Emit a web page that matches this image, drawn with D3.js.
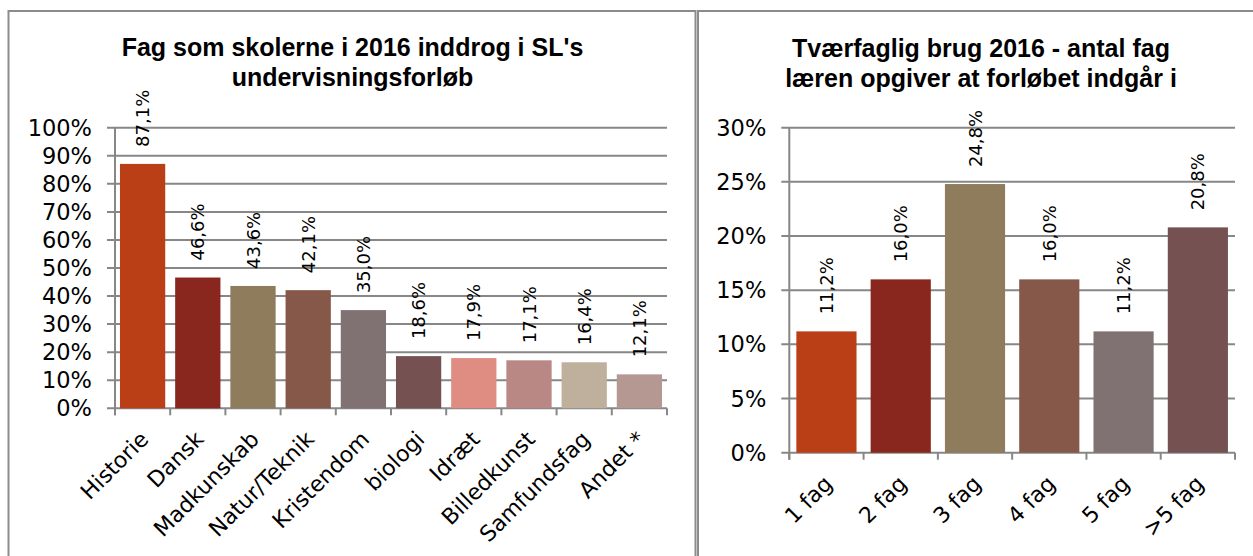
<!DOCTYPE html>
<html>
<head>
<meta charset="utf-8">
<script src="https://cdn.jsdelivr.net/npm/d3@7"></script>
<style>
  html, body { margin: 0; padding: 0; background: #ffffff; }
  svg { display: block; }
  text { font-family: "DejaVu Sans", sans-serif; fill: #000; }
  .title { font-family: "Liberation Sans", Arial, sans-serif; font-weight: bold; font-size: 25px; }
</style>
</head>
<body>
<svg id="chart" width="1253" height="556"></svg>
<script>
// ---------- DATA ----------
const leftTitle = ["Fag som skolerne i 2016 inddrog i SL's", "undervisningsforløb"];
const leftCategories = ["Historie", "Dansk", "Madkunskab", "Natur/Teknik", "Kristendom", "biologi", "Idræt", "Billedkunst", "Samfundsfag", "Andet *"];
const leftValues = [0.871, 0.466, 0.436, 0.421, 0.350, 0.186, 0.179, 0.171, 0.164, 0.121];
const leftColors = ["#BB3F16", "#89261D", "#8E7C5D", "#85584A", "#807273", "#765152", "#DF8C82", "#B98885", "#BEB09C", "#B69893"];
const leftTicks = [0, 0.1, 0.2, 0.3, 0.4, 0.5, 0.6, 0.7, 0.8, 0.9, 1.0];

const rightTitle = ["Tværfaglig brug 2016 - antal fag", "læren opgiver at forløbet indgår i"];
const rightCategories = ["1 fag", "2 fag", "3 fag", "4 fag", "5 fag", ">5 fag"];
const rightValues = [0.112, 0.160, 0.248, 0.160, 0.112, 0.208];
const rightColors = ["#BB3F16", "#89261D", "#8E7C5D", "#85584A", "#807273", "#765152"];
const rightTicks = [0, 0.05, 0.10, 0.15, 0.20, 0.25, 0.30];

// ---------- HELPERS ----------
const da = d3.formatLocale({decimal: ",", thousands: ".", grouping: [3], currency: ["", " kr"]});
const fmtLabel = da.format(".1%");
const fmtTick = da.format(".0%");
const GRID = "#878787";

const svg = d3.select("#chart");

// panel frames
function frame(x0, y0, x1, y1) {
  svg.append("rect")
    .attr("x", x0).attr("y", y0)
    .attr("width", x1 - x0).attr("height", y1 - y0)
    .attr("fill", "none").attr("stroke", "#8c8c8c").attr("stroke-width", 2);
}
frame(8.5, 11, 695.5, 620);
frame(698, 11, 1266, 620);

function drawChart(cfg) {
  const g = svg.append("g");
  const x = d3.scaleBand().domain(cfg.categories)
    .range([cfg.x0, cfg.x1]).paddingInner(cfg.pad).paddingOuter(cfg.pad / 2);
  const y = d3.scaleLinear().domain(cfg.domain).range([cfg.y0, cfg.y1]);

  // title
  cfg.title.forEach((t, i) => {
    g.append("text").attr("class", "title")
      .attr("x", cfg.titleX).attr("y", cfg.titleY + i * 30)
      .attr("text-anchor", "middle").text(t);
  });

  // gridlines (with tick extension left of axis)
  g.append("g").selectAll("line").data(cfg.ticks).join("line")
    .attr("x1", cfg.x0 - 8).attr("x2", cfg.x1)
    .attr("y1", d => y(d)).attr("y2", d => y(d))
    .attr("stroke", GRID).attr("stroke-width", 2);

  // y axis line
  g.append("line").attr("x1", cfg.x0).attr("x2", cfg.x0)
    .attr("y1", y(cfg.domain[1])).attr("y2", y(0) + 7)
    .attr("stroke", GRID).attr("stroke-width", 2);

  // x tick marks at band boundaries
  const bounds = cfg.categories.map(c => x(c) - x.step() * x.paddingOuter()).concat([cfg.x1]);
  g.append("g").selectAll("line").data(bounds).join("line")
    .attr("x1", d => d).attr("x2", d => d)
    .attr("y1", y(0)).attr("y2", y(0) + 7)
    .attr("stroke", GRID).attr("stroke-width", 2);

  // y tick labels
  g.append("g").selectAll("text").data(cfg.ticks).join("text")
    .attr("x", cfg.x0 - 23).attr("y", d => y(d))
    .attr("text-anchor", "end").attr("dominant-baseline", "central")
    .style("font-size", "22.5px")
    .text(d => fmtTick(d));

  // bars
  g.append("g").selectAll("rect").data(cfg.values).join("rect")
    .attr("x", (d, i) => x(cfg.categories[i]))
    .attr("width", x.bandwidth())
    .attr("y", d => y(d))
    .attr("height", d => y(0) - y(d))
    .attr("fill", (d, i) => cfg.colors[i]);

  // data labels (rotated)
  g.append("g").selectAll("text").data(cfg.values).join("text")
    .attr("transform", (d, i) => `translate(${x(cfg.categories[i]) + x.bandwidth() / 2},${y(d) - 17}) rotate(-90)`)
    .attr("text-anchor", "start").attr("dominant-baseline", "central")
    .style("font-size", "18px")
    .text(d => fmtLabel(d));

  // x category labels (rotated -45)
  g.append("g").selectAll("text").data(cfg.categories).join("text")
    .attr("transform", d => `translate(${x(d) + x.bandwidth() / 2 + 2},${y(0) + 27}) rotate(-45)`)
    .attr("text-anchor", "end").attr("dominant-baseline", "central")
    .style("font-size", "22px")
    .text(d => d);
}

drawChart({
  title: leftTitle, titleX: 352.5, titleY: 56,
  categories: leftCategories, values: leftValues, colors: leftColors, ticks: leftTicks,
  domain: [0, 1], x0: 115, x1: 667, y0: 408.3, y1: 127.7, pad: 0.18
});

drawChart({
  title: rightTitle, titleX: 981, titleY: 57,
  categories: rightCategories, values: rightValues, colors: rightColors, ticks: rightTicks,
  domain: [0, 0.3], x0: 789.3, x1: 1235, y0: 452.7, y1: 127.7, pad: 0.19
});
</script>
</body>
</html>
